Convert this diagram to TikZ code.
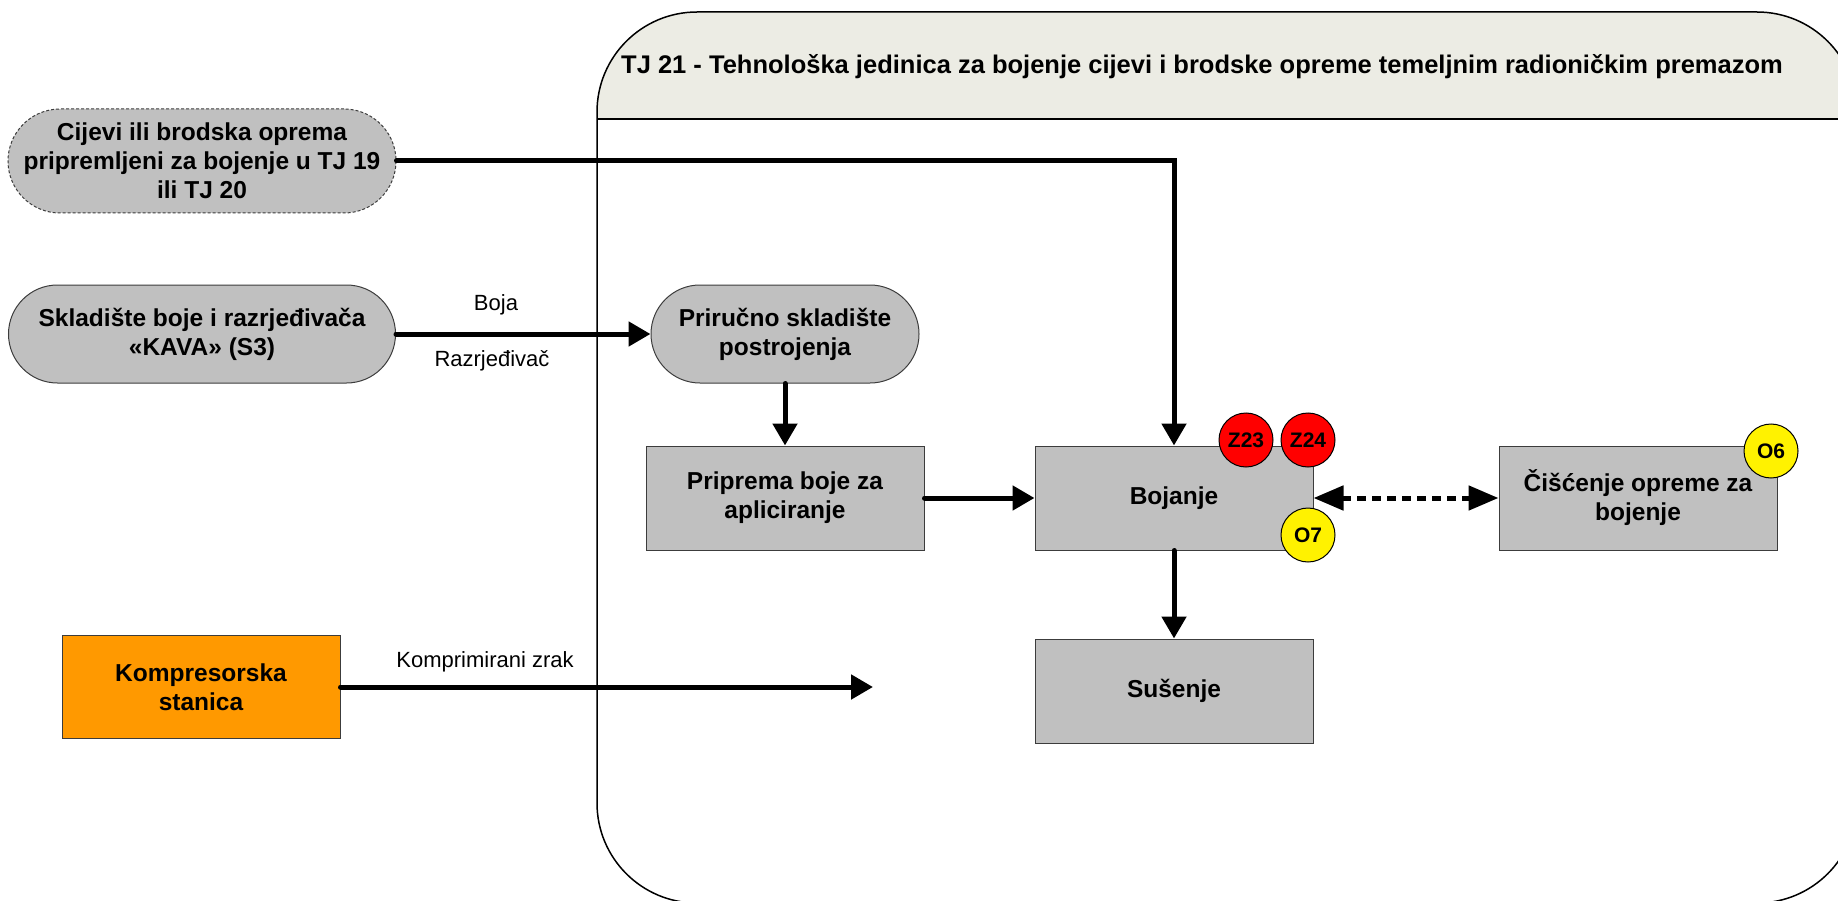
\documentclass[tikz,border=0pt]{standalone}
\usepackage{fontspec}
\setmainfont{Liberation Sans}
\usetikzlibrary{arrows.meta}
\definecolor{boxgray}{RGB}{192,192,192}
\definecolor{hdr}{RGB}{236,236,228}
\definecolor{orng}{RGB}{255,153,0}
\definecolor{edge}{RGB}{60,60,60}
\begin{document}
\begin{tikzpicture}[x=1pt,y=-1pt,
  proc/.style={draw=edge, line width=1pt, fill=boxgray, minimum width=278pt, minimum height=104pt, align=center, font=\fontsize{24.5}{29}\selectfont\bfseries, inner sep=0pt},
  term/.style={proc, rounded corners=49pt, minimum height=98pt},
  flow/.style={line width=5pt, line cap=round, -{Triangle[length=22pt,width=24pt]}},
  dflow/.style={line width=5pt, dash pattern=on 9pt off 6pt, {Triangle[length=30pt,width=24pt]}-{Triangle[length=30pt,width=24pt]}},
  lbl/.style={font=\fontsize{22}{26}\selectfont},
  badge/.style={circle, draw=black, line width=1pt, minimum size=54pt, inner sep=0pt, font=\fontsize{21}{25}\selectfont\bfseries}
]
\useasboundingbox (0,0) rectangle (1838,901);
% container
\begin{scope}
\clip[rounded corners=100pt] (597,12) rectangle (1857,903);
\fill[hdr] (597,12) rectangle (1857,119);
\end{scope}
\draw[line width=1.5pt, rounded corners=100pt] (597,12) rectangle (1857,903);
\draw[line width=1.5pt] (597,119) -- (1857,119);
\node[font=\fontsize{25.5}{30}\selectfont\bfseries] (title) at (1202,67) {TJ 21 - Tehnološka jedinica za bojenje cijevi i brodske opreme temeljnim radioničkim premazom};

% nodes
\node[term, dash pattern=on 3pt off 2pt, minimum width=388pt, minimum height=104pt, rounded corners=52pt] (cij) at (202,161) {Cijevi ili brodska oprema\\pripremljeni za bojenje u TJ 19\\ili TJ 20};
\node[term, minimum width=387pt] (skl) at (202,334) {Skladište boje i razrjeđivača\\«KAVA» (S3)};
\node[term, minimum width=268pt] (pri) at (785,334) {Priručno skladište\\postrojenja};
\node[proc] (prip) at (785,498) {Priprema boje za\\apliciranje};
\node[proc] (boj) at (1174,498) {Bojanje};
\node[proc] (cis) at (1638,498) {Čišćenje opreme za\\bojenje};
\node[proc] (sus) at (1174,691) {Sušenje};
\node[proc, fill=orng, minimum height=103pt] (komp) at (201,687) {Kompresorska\\stanica};

% badges
\node[badge, fill=red] (z23) at (1246,440) {Z23};
\node[badge, fill=red] (z24) at (1308,440) {Z24};
\node[badge, fill=yellow] (o7) at (1308,535) {O7};
\node[badge, fill=yellow] (o6) at (1771,451) {O6};

% connectors
\draw[flow] (skl.east) -- (pri.west);
\draw[flow] (pri.south) -- (prip.north);
\draw[flow] (prip.east) -- (boj.west);
\draw[flow] (cij.east) -| (boj.north);
\draw[flow] (boj.south) -- (sus.north);
\draw[dflow] (boj.east) -- (cis.west);
\coordinate (kend) at (873,687);
\draw[flow] (komp.east) -- (kend);

% labels
\node[lbl] (lboja) at (496,305) {Boja};
\node[lbl] (lraz) at (492,361) {Razrjeđivač};
\node[lbl] (lkomp) at (485,662) {Komprimirani zrak};
\end{tikzpicture}
\end{document}
